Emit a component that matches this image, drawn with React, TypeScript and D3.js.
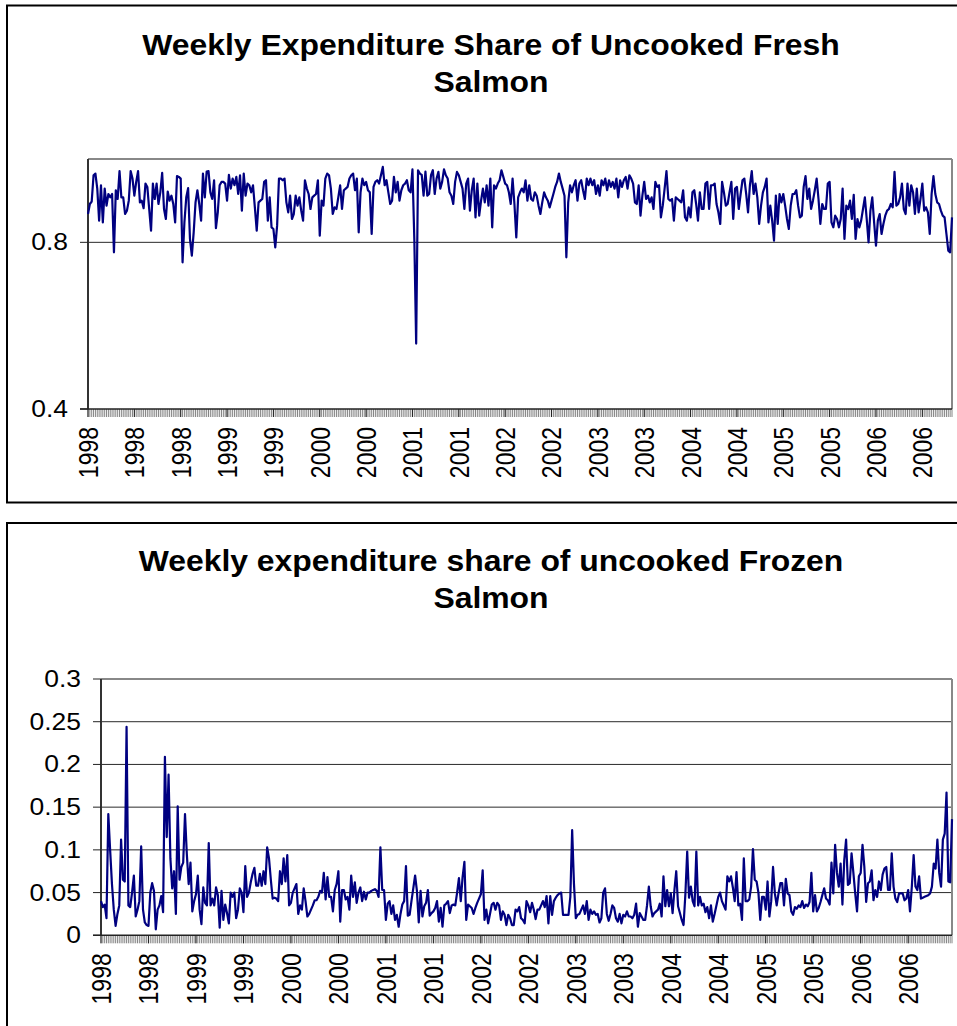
import React from "react";
import * as d3 from "d3";

// Weekly expenditure share of uncooked fresh salmon (467 weeks, 1998 - 2006)
const freshShare: number[] = [
  0.868, 0.892, 0.898, 0.961, 0.965, 0.929, 0.852, 0.937, 0.848, 0.929,
  0.888, 0.916, 0.908, 0.916, 0.776, 0.925, 0.904, 0.971, 0.908, 0.908,
  0.868, 0.876, 0.900, 0.971, 0.953, 0.912, 0.945, 0.971, 0.896, 0.900,
  0.882, 0.941, 0.933, 0.880, 0.828, 0.941, 0.904, 0.941, 0.892, 0.920,
  0.967, 0.880, 0.856, 0.922, 0.900, 0.912, 0.892, 0.848, 0.959, 0.957,
  0.953, 0.752, 0.848, 0.908, 0.930, 0.808, 0.768, 0.824, 0.896, 0.925,
  0.892, 0.852, 0.965, 0.908, 0.970, 0.971, 0.920, 0.904, 0.949, 0.834,
  0.872, 0.937, 0.945, 0.945, 0.941, 0.900, 0.962, 0.929, 0.953, 0.937,
  0.957, 0.916, 0.961, 0.876, 0.965, 0.912, 0.941, 0.937, 0.920, 0.937,
  0.884, 0.828, 0.896, 0.900, 0.904, 0.945, 0.949, 0.852, 0.908, 0.836,
  0.832, 0.788, 0.840, 0.953, 0.953, 0.949, 0.953, 0.896, 0.872, 0.912,
  0.856, 0.868, 0.912, 0.888, 0.908, 0.876, 0.852, 0.949, 0.929, 0.916,
  0.880, 0.908, 0.912, 0.916, 0.949, 0.816,
  0.900, 0.888, 0.953, 0.965, 0.961, 0.929, 0.868, 0.884, 0.880, 0.908,
  0.937, 0.880, 0.925, 0.929, 0.933, 0.953, 0.961, 0.965, 0.925,
  0.953, 0.824, 0.920, 0.953, 0.937, 0.945, 0.925, 0.920, 0.820,
  0.933, 0.945, 0.949, 0.941, 0.961, 0.981, 0.937, 0.949, 0.920, 0.892,
  0.900, 0.957, 0.920, 0.945, 0.900, 0.925, 0.937, 0.941, 0.949,
  0.925, 0.920, 0.975, 0.808, 0.557, 0.973, 0.965, 0.962, 0.912, 0.970,
  0.912, 0.916, 0.961, 0.973, 0.916, 0.953, 0.969, 0.929, 0.945,
  0.975, 0.961, 0.953, 0.920, 0.912, 0.892, 0.945, 0.969, 0.961, 0.945,
  0.929, 0.880, 0.941, 0.953, 0.876, 0.925, 0.953, 0.860, 0.941, 0.864,
  0.900, 0.929, 0.896, 0.937, 0.888, 0.953, 0.836, 0.937, 0.929, 0.941,
  0.949, 0.973, 0.957, 0.941, 0.937, 0.920, 0.892, 0.953, 0.892, 0.812,
  0.908, 0.920, 0.929, 0.920, 0.949, 0.900, 0.937, 0.904, 0.900,
  0.920, 0.912, 0.888, 0.868, 0.896, 0.920, 0.908, 0.900,
  0.884, 0.900, 0.916, 0.933, 0.945, 0.965, 0.945, 0.929, 0.912,
  0.764, 0.896, 0.937, 0.920, 0.937, 0.949, 0.900, 0.941, 0.949,
  0.925, 0.904, 0.953, 0.937, 0.953, 0.937, 0.949, 0.916, 0.937,
  0.912, 0.949, 0.937, 0.953, 0.925, 0.949, 0.933, 0.945, 0.929, 0.953,
  0.908, 0.949, 0.933,
  0.949, 0.957, 0.929, 0.961, 0.953, 0.941, 0.896, 0.892, 0.937, 0.864,
  0.912, 0.945, 0.904, 0.912, 0.896, 0.908, 0.880, 0.945, 0.933, 0.937,
  0.860, 0.888, 0.929, 0.971, 0.904, 0.900, 0.904, 0.852, 0.908, 0.904,
  0.900, 0.896, 0.925, 0.860, 0.852, 0.884, 0.860, 0.920, 0.925, 0.892,
  0.852, 0.920, 0.880, 0.880, 0.941, 0.945, 0.880, 0.937, 0.937,
  0.941, 0.892, 0.872, 0.844, 0.945, 0.920, 0.888, 0.892, 0.920, 0.945,
  0.856, 0.929, 0.933, 0.880, 0.916, 0.949, 0.953, 0.916, 0.872, 0.937,
  0.971, 0.916, 0.941, 0.908, 0.844, 0.888, 0.920, 0.933, 0.953, 0.848,
  0.888, 0.852, 0.804, 0.912, 0.844, 0.916, 0.896, 0.916, 0.888, 0.856,
  0.832, 0.888, 0.916, 0.916, 0.925, 0.888, 0.860,
  0.864, 0.933, 0.959, 0.904, 0.929, 0.880, 0.900, 0.925, 0.953,
  0.904, 0.844, 0.892, 0.880, 0.880, 0.941, 0.945, 0.848, 0.836, 0.864,
  0.856, 0.836, 0.856, 0.929, 0.808, 0.888, 0.880, 0.900, 0.856, 0.914,
  0.808, 0.856, 0.836, 0.852, 0.880, 0.908, 0.856, 0.800, 0.876, 0.908,
  0.848, 0.792, 0.852, 0.868, 0.820, 0.844, 0.864, 0.876, 0.880, 0.892,
  0.884, 0.969, 0.888, 0.892, 0.908, 0.941, 0.880, 0.868, 0.941, 0.888,
  0.937, 0.920, 0.868, 0.929, 0.872, 0.904, 0.941, 0.876, 0.884, 0.872,
  0.820, 0.916, 0.959, 0.916, 0.896, 0.892, 0.876, 0.864, 0.860,
  0.820, 0.780, 0.776, 0.860,
];

// Weekly expenditure share of uncooked frozen salmon (467 weeks, 1998 - 2006)
const frozenShare: number[] = [
  0.040, 0.033, 0.036, 0.020, 0.142, 0.100, 0.060, 0.030, 0.011, 0.025,
  0.035, 0.112, 0.065, 0.063, 0.244, 0.035, 0.033, 0.050, 0.070, 0.022,
  0.030, 0.040, 0.104, 0.030, 0.015, 0.012, 0.011, 0.050, 0.061, 0.052,
  0.007, 0.030, 0.035, 0.046, 0.027, 0.209, 0.115, 0.188, 0.090, 0.055,
  0.075, 0.025, 0.151, 0.065, 0.080, 0.085, 0.142, 0.095, 0.060, 0.085,
  0.028, 0.040, 0.048, 0.070, 0.030, 0.013, 0.056, 0.038, 0.035, 0.108,
  0.035, 0.043, 0.035, 0.056, 0.047, 0.009, 0.052, 0.018, 0.036, 0.026,
  0.014, 0.050, 0.045, 0.050, 0.020, 0.030, 0.055, 0.050, 0.027, 0.081,
  0.045, 0.050, 0.062, 0.072, 0.079, 0.058, 0.058, 0.072, 0.058, 0.075,
  0.060, 0.103, 0.090, 0.065, 0.043, 0.044, 0.043, 0.040, 0.075, 0.060,
  0.090, 0.063, 0.094, 0.035, 0.038, 0.050, 0.055, 0.060, 0.025, 0.035,
  0.030, 0.055, 0.040, 0.022, 0.025, 0.030, 0.035, 0.041, 0.041, 0.045,
  0.052, 0.050, 0.073, 0.042, 0.068, 0.045, 0.045, 0.028, 0.053, 0.060,
  0.075, 0.016, 0.053, 0.053, 0.042, 0.045, 0.030, 0.070, 0.045, 0.062,
  0.038, 0.050, 0.056, 0.040, 0.051, 0.042, 0.050, 0.050, 0.052, 0.053,
  0.054, 0.052, 0.045, 0.103, 0.053, 0.053, 0.018, 0.037, 0.040, 0.025,
  0.035, 0.018, 0.024, 0.010, 0.025, 0.036, 0.040, 0.081, 0.023, 0.024,
  0.040, 0.055, 0.070, 0.052, 0.015, 0.052, 0.022, 0.034, 0.038, 0.053,
  0.023, 0.026, 0.028, 0.032, 0.040, 0.016, 0.032, 0.010, 0.035, 0.037,
  0.040, 0.026, 0.035, 0.036, 0.035, 0.050, 0.067, 0.040, 0.068, 0.086,
  0.018, 0.036, 0.034, 0.032, 0.025, 0.032, 0.038, 0.043, 0.048, 0.076,
  0.018, 0.030, 0.014, 0.025, 0.036, 0.038, 0.030, 0.038, 0.035, 0.018,
  0.028, 0.024, 0.012, 0.024, 0.020, 0.012, 0.012, 0.030, 0.028, 0.033,
  0.020, 0.018, 0.014, 0.040, 0.035, 0.027, 0.038, 0.030, 0.019, 0.030,
  0.030, 0.035, 0.040, 0.033, 0.046, 0.014, 0.046, 0.024, 0.040, 0.044,
  0.047, 0.049, 0.050, 0.024, 0.024, 0.024, 0.024, 0.045, 0.123, 0.060,
  0.020, 0.024, 0.025, 0.030, 0.035, 0.025, 0.040, 0.018, 0.030, 0.025,
  0.028, 0.024, 0.025, 0.015, 0.020, 0.050, 0.055, 0.025, 0.017, 0.025,
  0.035, 0.032, 0.020, 0.016, 0.025,
  0.014, 0.024, 0.022, 0.028, 0.022, 0.022, 0.020, 0.024, 0.037, 0.010,
  0.026, 0.022, 0.018, 0.018, 0.035, 0.057, 0.034, 0.022, 0.026, 0.028,
  0.030, 0.037, 0.022, 0.069, 0.034, 0.053, 0.034, 0.049, 0.026, 0.053,
  0.075, 0.034, 0.026, 0.018, 0.012, 0.048, 0.098, 0.044, 0.057, 0.040,
  0.034, 0.098, 0.035, 0.045, 0.035, 0.037, 0.027, 0.033, 0.020, 0.035,
  0.016, 0.025, 0.035, 0.045, 0.050, 0.040, 0.035, 0.030, 0.069, 0.063,
  0.069, 0.056, 0.040, 0.074, 0.035, 0.037, 0.018, 0.090, 0.040, 0.040,
  0.042, 0.057, 0.101, 0.065, 0.063, 0.050, 0.018, 0.045, 0.045, 0.030,
  0.063, 0.022, 0.040, 0.080, 0.049, 0.035, 0.049, 0.061, 0.061, 0.035,
  0.066, 0.049, 0.047, 0.028, 0.024, 0.033, 0.031, 0.035, 0.033, 0.040,
  0.032, 0.036, 0.034, 0.039, 0.073, 0.028, 0.047, 0.028, 0.032, 0.039,
  0.047, 0.055, 0.043, 0.041, 0.036, 0.085, 0.049, 0.106, 0.073, 0.057,
  0.084, 0.036, 0.088, 0.112, 0.059, 0.061, 0.096, 0.073, 0.049, 0.028,
  0.069, 0.073, 0.106, 0.080, 0.039, 0.061, 0.063, 0.076, 0.041, 0.053,
  0.045, 0.063, 0.053, 0.071, 0.078, 0.080, 0.053, 0.053, 0.096, 0.057,
  0.043, 0.039, 0.049, 0.049, 0.049, 0.041, 0.043, 0.053, 0.028, 0.057,
  0.094, 0.057, 0.053, 0.069, 0.043, 0.044, 0.045, 0.046, 0.047, 0.049,
  0.057, 0.084, 0.078, 0.112, 0.073, 0.057, 0.112, 0.119, 0.167, 0.063,
  0.062, 0.136,
];

const freshTickLabels = [
  "1998", "1998", "1998", "1999", "1999", "2000", "2000", "2001", "2001", "2002",
  "2002", "2003", "2003", "2004", "2004", "2005", "2005", "2006", "2006",
];
const frozenTickLabels = [
  "1998", "1998", "1999", "1999", "2000", "2000", "2001", "2001", "2002",
  "2002", "2003", "2003", "2004", "2004", "2005", "2005", "2006", "2006",
];
const freshLabelEvery = 25;
const frozenLabelEvery = 26;

const freshYTicks = [0.4, 0.8];
const freshYTickLabels = ["0.4", "0.8"];
const frozenYTicks = [0, 0.05, 0.1, 0.15, 0.2, 0.25, 0.3];
const frozenYTickLabels = ["0", "0.05", "0.1", "0.15", "0.2", "0.25", "0.3"];

const freshTitle = ["Weekly Expenditure Share of Uncooked Fresh", "Salmon"];
const frozenTitle = ["Weekly expenditure share of uncooked Frozen", "Salmon"];

const FONT = "'Liberation Sans', Arial, Helvetica, sans-serif";
const SX = 1.15;

type PanelProps = {
  boxY: number;
  boxH: number;
  titleLines: string[];
  titleY: number;
  data: number[];
  yDomain: [number, number];
  yTicks: number[];
  yTickLabels: string[];
  xLabels: string[];
  labelEvery: number;
  plot: { x0: number; x1: number; y0: number; y1: number };
};

function Panel(p: PanelProps) {
  const { plot } = p;
  const n = p.data.length;
  const x = d3.scaleLinear().domain([0, n - 1]).range([plot.x0, plot.x1]);
  const y = d3.scaleLinear().domain(p.yDomain).range([plot.y1, plot.y0]);
  const line = d3
    .line<number>()
    .x((_, i) => x(i))
    .y((d) => y(d));
  const cats = d3.range(n);
  const labelIdx = p.xLabels.map((_, k) => k * p.labelEvery);
  return (
    <g>
      <rect x={7} y={p.boxY} width={980} height={p.boxH} fill="#fff" stroke="#000" strokeWidth={2} />
      {p.titleLines.map((t, i) => (
        <text
          key={i}
          transform={`translate(491,${p.titleY + i * 37}) scale(1.1,1)`}
          textAnchor="middle"
          fontFamily={FONT}
          fontWeight="bold"
          fontSize={29}
          fill="#000"
        >
          {t}
        </text>
      ))}
      {p.yTicks
        .filter((v) => v > p.yDomain[0] && v < p.yDomain[1])
        .map((v) => (
          <line key={"g" + v} x1={plot.x0} x2={plot.x1} y1={y(v)} y2={y(v)} stroke="#2a2a2a" strokeWidth={1} />
        ))}
      <line x1={plot.x0} x2={plot.x1} y1={plot.y0} y2={plot.y0} stroke="#888" strokeWidth={2} />
      <line x1={plot.x1} x2={plot.x1} y1={plot.y0} y2={plot.y1} stroke="#888" strokeWidth={2} />
      {cats.map((i) => (
        <line key={"t" + i} x1={x(i)} x2={x(i)} y1={plot.y1} y2={plot.y1 + 8} stroke="#777" strokeWidth={0.9} />
      ))}
      {labelIdx.map((i) => (
        <line key={"M" + i} x1={x(i)} x2={x(i)} y1={plot.y1} y2={plot.y1 + 8} stroke="#222" strokeWidth={1} />
      ))}
      <line x1={plot.x0} x2={plot.x0} y1={plot.y0} y2={plot.y1} stroke="#333" strokeWidth={2} />
      <line x1={plot.x0 - 8} x2={plot.x1} y1={plot.y1} y2={plot.y1} stroke="#222" strokeWidth={1.5} />
      {p.yTicks.map((v, k) => (
        <g key={"y" + v}>
          <line x1={plot.x0 - 8} x2={plot.x0} y1={y(v)} y2={y(v)} stroke="#222" strokeWidth={1} />
          <text
            transform={`translate(${plot.x0 - 20},${y(v)}) scale(${SX},1)`}
            textAnchor="end"
            dy="0.35em"
            fontFamily={FONT}
            fontSize={23}
            fill="#000"
          >
            {p.yTickLabels[k]}
          </text>
        </g>
      ))}
      {labelIdx.map((i, k) => (
        <text
          key={"x" + k}
          transform={`translate(${x(i)},${plot.y1 + 18}) scale(1.2,1) rotate(-90)`}
          textAnchor="end"
          dy="0.36em"
          fontFamily={FONT}
          fontSize={23}
          fill="#000"
        >
          {p.xLabels[k]}
        </text>
      ))}
      <path d={line(p.data) || ""} fill="none" stroke="#000080" strokeWidth={2.2} strokeLinejoin="round" />
    </g>
  );
}

export default function App() {
  return (
    <svg
      width={957}
      height={1026}
      style={{ position: "absolute", left: 0, top: 0, background: "#fff" }}
    >
      <rect x={0} y={0} width={957} height={1026} fill="#fff" />
      <Panel
        boxY={5.5}
        boxH={497}
        titleLines={freshTitle}
        titleY={55}
        data={freshShare}
        yDomain={[0.4, 1.0]}
        yTicks={freshYTicks}
        yTickLabels={freshYTickLabels}
        xLabels={freshTickLabels}
        labelEvery={freshLabelEvery}
        plot={{ x0: 88, x1: 952, y0: 159, y1: 409 }}
      />
      <Panel
        boxY={523}
        boxH={600}
        titleLines={frozenTitle}
        titleY={571}
        data={frozenShare}
        yDomain={[0, 0.3]}
        yTicks={frozenYTicks}
        yTickLabels={frozenYTickLabels}
        xLabels={frozenTickLabels}
        labelEvery={frozenLabelEvery}
        plot={{ x0: 101, x1: 952, y0: 679, y1: 935.3 }}
      />
    </svg>
  );
}
